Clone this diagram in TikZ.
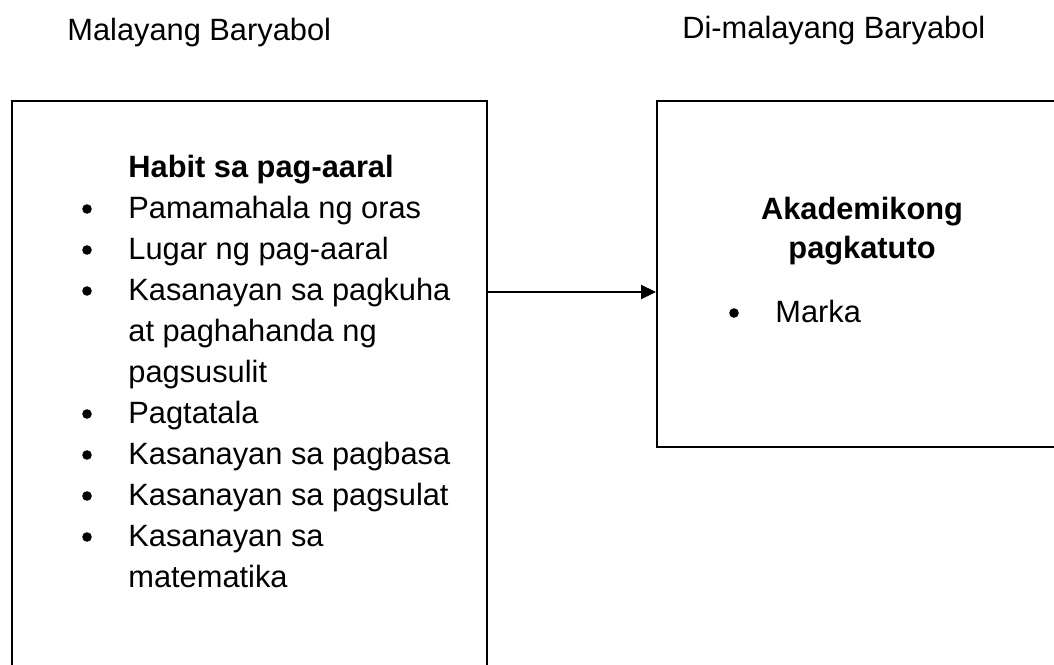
\documentclass[tikz,border=0pt]{standalone}
\usepackage{fontspec}
\setmainfont{Liberation Sans}
\usetikzlibrary{arrows.meta,positioning}
\tikzset{
    >={Triangle[length=7.5pt,width=7pt]},
    framebox/.style={
        rectangle,
        draw, line width=1.1pt,
        inner sep=0pt,
        anchor=north west
    },
    varlabel/.style={anchor=base west, inner sep=0pt},
    itemtext/.style={anchor=base west, inner sep=0pt},
    boxhead/.style={anchor=base, inner sep=0pt, font={\fontsize{15.4pt}{18pt}\selectfont\bfseries}},
    itemdot/.style={circle, fill=black, inner sep=0pt, minimum size=4.8pt},
    link/.style={draw, line width=1.1pt, ->},
    font={\fontsize{15.4pt}{18pt}\selectfont},
}
\begin{document}
\begin{tikzpicture}[x=0.5pt, y=-0.5pt]
\useasboundingbox (0,0) rectangle (1054,664);
\clip (0,0) rectangle (1054,664);

% the two boxes
\node [framebox, minimum width=237.5pt, minimum height=300pt] (habitbox) at (11,100) {};
\node [framebox, minimum width=207pt, minimum height=173pt] (akadbox) at (656,100) {};

% headings over the boxes
\node [varlabel] (malaya) at (67,40) {Malayang Baryabol};
\node [varlabel] (dimalaya) at (682,38) {Di-malayang Baryabol};

% left box
\node [itemtext, font={\fontsize{15.4pt}{18pt}\selectfont\bfseries}] (habit) at (128,177) {Habit sa pag-aaral};

\foreach \t [count=\y] in {Pamamahala ng oras, Lugar ng pag-aaral,
    Kasanayan sa pagkuha, at paghahanda ng, pagsusulit, Pagtatala,
    Kasanayan sa pagbasa, Kasanayan sa pagsulat, Kasanayan sa, matematika}
  \node [itemtext] (habit-\y) at (128,177+\y*41) {\t};

\foreach \y in {1,2,3,6,7,8,9}
  \node [itemdot] (dot-\y) at (87,168+\y*41) {};

% right box
\node [boxhead] (akad-1) at (862,219) {Akademikong};
\node [boxhead] (akad-2) at (862,258) {pagkatuto};
\node [itemtext] (marka) at (775,322) {Marka};
\node [itemdot] (markadot) at (734,313) {};

\coordinate (arrowlevel) at (0,292);
\path [link] (habitbox.east |- arrowlevel) -- (akadbox.west |- arrowlevel);

\end{tikzpicture}
\end{document}
